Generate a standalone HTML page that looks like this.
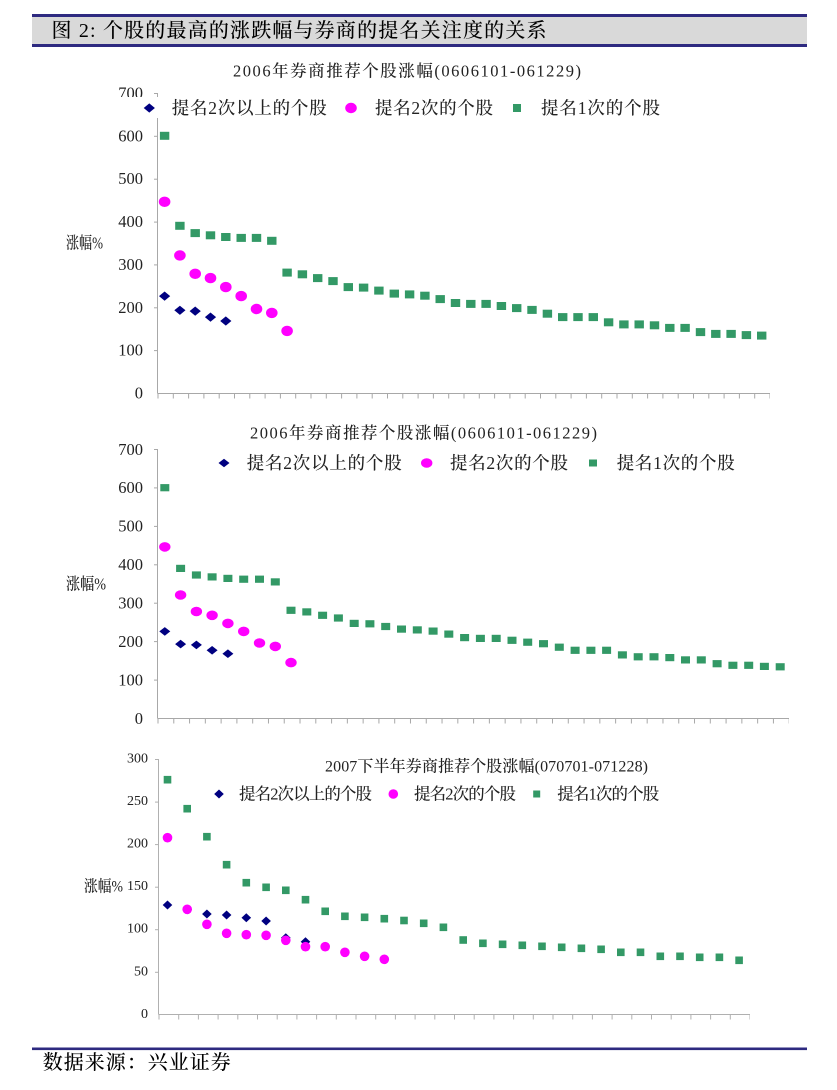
<!DOCTYPE html>
<html><head><meta charset="utf-8"><style>
html,body{margin:0;padding:0;background:#fff;}
svg{display:block;}
text{font-family:"Liberation Serif","Noto Serif CJK SC",serif;fill:#222;}
.cj{font-weight:500;}
</style></head><body>
<svg width="837" height="1090" viewBox="0 0 837 1090" xmlns="http://www.w3.org/2000/svg">
<defs>
<path id="d1" d="M0,-4.6 L5.6,0 L0,4.6 L-5.6,0Z" fill="#000080"/>
<ellipse id="c1" cx="0" cy="0" rx="5.8" ry="5.2" fill="#ff00ff"/>
<rect id="s1" x="-4.7" y="-4" width="9.4" height="8" fill="#339966"/>
<path id="d2" d="M0,-4.3 L5.5,0 L0,4.3 L-5.5,0Z" fill="#000080"/>
<ellipse id="c2" cx="0" cy="0" rx="5.7" ry="4.8" fill="#ff00ff"/>
<rect id="s2" x="-4.5" y="-3.6" width="9" height="7.2" fill="#339966"/>
<path id="d3" d="M0,-4.5 L4.8,0 L0,4.5 L-4.8,0Z" fill="#000080"/>
<circle id="c3" cx="0" cy="0" r="4.8" fill="#ff00ff"/>
<rect id="s3" x="-3.8" y="-3.8" width="7.6" height="7.6" fill="#339966"/>
</defs>

<!-- Header -->
<rect x="32" y="14" width="775" height="3" fill="#2e2a80"/>
<rect x="32" y="17" width="775" height="27" fill="#d9d9d9"/>
<rect x="32" y="44" width="775" height="3" fill="#2e2a80"/>
<text class="cj" x="51.5" y="31" font-size="20" dominant-baseline="central" textLength="495" lengthAdjust="spacing" style="fill:#000">图 2: 个股的最高的涨跌幅与券商的提名关注度的关系</text>

<!-- ============ Chart 1 ============ -->
<text class="cj" x="233" y="71" font-size="16.5" dominant-baseline="central" textLength="348" lengthAdjust="spacing">2006年券商推荐个股涨幅(0606101-061229)</text>
<g stroke="#a8a8a8" fill="none" stroke-width="1">
<line x1="157.5" y1="93" x2="157.5" y2="393.5"/>
<line x1="157.5" y1="393.5" x2="770" y2="393.5"/>
<line x1="157.5" y1="396" x2="770" y2="396" stroke-width="5" stroke-dasharray="1 14.3"/>
<line x1="154" y1="93.5" x2="158" y2="93.5"/><line x1="154" y1="136.3" x2="158" y2="136.3"/><line x1="154" y1="179.2" x2="158" y2="179.2"/><line x1="154" y1="222.1" x2="158" y2="222.1"/><line x1="154" y1="264.9" x2="158" y2="264.9"/><line x1="154" y1="307.8" x2="158" y2="307.8"/><line x1="154" y1="350.6" x2="158" y2="350.6"/>
</g>
<g font-size="16.5" text-anchor="end" dominant-baseline="central">
<text x="143" y="93">700</text><text x="143" y="135.8">600</text><text x="143" y="178.7">500</text><text x="143" y="221.6">400</text><text x="143" y="264.4">300</text><text x="143" y="307.3">200</text><text x="143" y="350.1">100</text><text x="143" y="393">0</text>
</g>
<text class="cj" x="66" y="243" font-size="16.5" dominant-baseline="central" textLength="37" lengthAdjust="spacingAndGlyphs">涨幅%</text>
<!-- legend 1 -->
<rect x="108" y="97" width="575" height="21" fill="#fff"/>
<use href="#d1" x="149.3" y="108"/>
<text class="cj" x="171.7" y="108" font-size="17.5" dominant-baseline="central" textLength="155" lengthAdjust="spacing">提名2次以上的个股</text>
<use href="#c1" x="351" y="108"/>
<text class="cj" x="375" y="108" font-size="17.5" dominant-baseline="central" textLength="118" lengthAdjust="spacing">提名2次的个股</text>
<rect x="513" y="104" width="8" height="8" fill="#339966"/>
<text class="cj" x="541" y="108" font-size="17.5" dominant-baseline="central" textLength="119" lengthAdjust="spacing">提名1次的个股</text>
<!-- series 1 -->
<use href="#d1" x="164.6" y="296.1"/><use href="#d1" x="179.9" y="310.3"/><use href="#d1" x="195.2" y="311.1"/><use href="#d1" x="210.5" y="317.1"/><use href="#d1" x="225.8" y="321"/>
<use href="#c1" x="164.6" y="201.8"/><use href="#c1" x="179.9" y="255.4"/><use href="#c1" x="195.2" y="273.8"/><use href="#c1" x="210.5" y="278.1"/><use href="#c1" x="225.8" y="287.1"/><use href="#c1" x="241.2" y="296.1"/><use href="#c1" x="256.5" y="309"/><use href="#c1" x="271.8" y="312.9"/><use href="#c1" x="287.1" y="330.9"/>
<use href="#s1" x="164.6" y="135.8"/><use href="#s1" x="179.9" y="225.8"/><use href="#s1" x="195.2" y="233.1"/><use href="#s1" x="210.5" y="235.3"/><use href="#s1" x="225.8" y="237"/><use href="#s1" x="241.2" y="237.9"/><use href="#s1" x="256.5" y="237.9"/><use href="#s1" x="271.8" y="240.8"/><use href="#s1" x="287.1" y="272.6"/><use href="#s1" x="302.4" y="274.3"/><use href="#s1" x="317.7" y="278.1"/><use href="#s1" x="333" y="281.1"/><use href="#s1" x="348.3" y="287.1"/><use href="#s1" x="363.6" y="287.6"/><use href="#s1" x="378.9" y="290.6"/><use href="#s1" x="394.3" y="293.6"/><use href="#s1" x="409.6" y="294.4"/><use href="#s1" x="424.9" y="295.7"/><use href="#s1" x="440.2" y="299.1"/><use href="#s1" x="455.5" y="303"/><use href="#s1" x="470.8" y="303.9"/><use href="#s1" x="486.1" y="303.9"/><use href="#s1" x="501.4" y="306"/><use href="#s1" x="516.7" y="308.1"/><use href="#s1" x="532" y="309.9"/><use href="#s1" x="547.4" y="313.7"/><use href="#s1" x="562.7" y="317.1"/><use href="#s1" x="578" y="317.1"/><use href="#s1" x="593.3" y="317.1"/><use href="#s1" x="608.6" y="322.3"/><use href="#s1" x="623.9" y="324.4"/><use href="#s1" x="639.2" y="324.4"/><use href="#s1" x="654.5" y="325.3"/><use href="#s1" x="669.8" y="327.9"/><use href="#s1" x="685.1" y="327.9"/><use href="#s1" x="700.5" y="332.1"/><use href="#s1" x="715.8" y="333.9"/><use href="#s1" x="731.1" y="333.9"/><use href="#s1" x="746.4" y="335.1"/><use href="#s1" x="761.7" y="335.6"/>

<!-- ============ Chart 2 ============ -->
<text class="cj" x="250" y="433" font-size="16.5" dominant-baseline="central" textLength="347" lengthAdjust="spacing">2006年券商推荐个股涨幅(0606101-061229)</text>
<g stroke="#a8a8a8" fill="none" stroke-width="1">
<line x1="157.5" y1="449" x2="157.5" y2="718.5"/>
<line x1="157.5" y1="718.5" x2="789" y2="718.5"/>
<line x1="157.5" y1="721" x2="789" y2="721" stroke-width="5" stroke-dasharray="1 14.78"/>
<line x1="154" y1="449.5" x2="158" y2="449.5"/><line x1="154" y1="487.9" x2="158" y2="487.9"/><line x1="154" y1="526.4" x2="158" y2="526.4"/><line x1="154" y1="564.8" x2="158" y2="564.8"/><line x1="154" y1="603.2" x2="158" y2="603.2"/><line x1="154" y1="641.6" x2="158" y2="641.6"/><line x1="154" y1="680.1" x2="158" y2="680.1"/>
</g>
<g font-size="16.5" text-anchor="end" dominant-baseline="central">
<text x="143" y="449.3">700</text><text x="143" y="487.7">600</text><text x="143" y="526.2">500</text><text x="143" y="564.6">400</text><text x="143" y="603">300</text><text x="143" y="641.4">200</text><text x="143" y="679.9">100</text><text x="143" y="718.3">0</text>
</g>
<text class="cj" x="66" y="584" font-size="16.5" dominant-baseline="central" textLength="40" lengthAdjust="spacingAndGlyphs">涨幅%</text>
<use href="#d2" x="224" y="463"/>
<text class="cj" x="246.7" y="463" font-size="17.5" dominant-baseline="central" textLength="155" lengthAdjust="spacing">提名2次以上的个股</text>
<use href="#c2" x="426.7" y="463"/>
<text class="cj" x="450" y="463" font-size="17.5" dominant-baseline="central" textLength="118" lengthAdjust="spacing">提名2次的个股</text>
<rect x="589" y="459.5" width="8" height="7" fill="#339966"/>
<text class="cj" x="616.7" y="463" font-size="17.5" dominant-baseline="central" textLength="118" lengthAdjust="spacing">提名1次的个股</text>
<use href="#d2" x="164.8" y="631.4"/><use href="#d2" x="180.6" y="644.1"/><use href="#d2" x="196.4" y="644.9"/><use href="#d2" x="212.1" y="650.3"/><use href="#d2" x="227.9" y="653.7"/>
<use href="#c2" x="164.8" y="546.9"/><use href="#c2" x="180.6" y="595"/><use href="#c2" x="196.4" y="611.5"/><use href="#c2" x="212.1" y="615.3"/><use href="#c2" x="227.9" y="623.4"/><use href="#c2" x="243.7" y="631.4"/><use href="#c2" x="259.5" y="643"/><use href="#c2" x="275.3" y="646.4"/><use href="#c2" x="291" y="662.6"/>
<use href="#s2" x="164.8" y="487.7"/><use href="#s2" x="180.6" y="568.4"/><use href="#s2" x="196.4" y="575"/><use href="#s2" x="212.1" y="576.9"/><use href="#s2" x="227.9" y="578.4"/><use href="#s2" x="243.7" y="579.2"/><use href="#s2" x="259.5" y="579.2"/><use href="#s2" x="275.3" y="581.9"/><use href="#s2" x="291" y="610.3"/><use href="#s2" x="306.8" y="611.9"/><use href="#s2" x="322.6" y="615.3"/><use href="#s2" x="338.4" y="618"/><use href="#s2" x="354.2" y="623.4"/><use href="#s2" x="369.9" y="623.8"/><use href="#s2" x="385.7" y="626.5"/><use href="#s2" x="401.5" y="629.1"/><use href="#s2" x="417.3" y="629.9"/><use href="#s2" x="433.1" y="631.1"/><use href="#s2" x="448.8" y="634.1"/><use href="#s2" x="464.6" y="637.6"/><use href="#s2" x="480.4" y="638.4"/><use href="#s2" x="496.2" y="638.4"/><use href="#s2" x="512" y="640.3"/><use href="#s2" x="527.7" y="642.2"/><use href="#s2" x="543.5" y="643.7"/><use href="#s2" x="559.3" y="647.2"/><use href="#s2" x="575.1" y="650.3"/><use href="#s2" x="590.9" y="650.3"/><use href="#s2" x="606.6" y="650.3"/><use href="#s2" x="622.4" y="654.9"/><use href="#s2" x="638.2" y="656.8"/><use href="#s2" x="654" y="656.8"/><use href="#s2" x="669.8" y="657.6"/><use href="#s2" x="685.5" y="659.9"/><use href="#s2" x="701.3" y="659.9"/><use href="#s2" x="717.1" y="663.7"/><use href="#s2" x="732.9" y="665.3"/><use href="#s2" x="748.7" y="665.3"/><use href="#s2" x="764.4" y="666.4"/><use href="#s2" x="780.2" y="666.8"/>

<!-- ============ Chart 3 ============ -->
<text class="cj" x="325" y="767" font-size="16" dominant-baseline="central" textLength="323" lengthAdjust="spacing">2007下半年券商推荐个股涨幅(070701-071228)</text>
<g stroke="#b0b0b0" fill="none" stroke-width="1">
<line x1="158.5" y1="759" x2="158.5" y2="1014.5"/>
<line x1="158.5" y1="1014.5" x2="750" y2="1014.5"/>
<line x1="158.5" y1="1017" x2="750" y2="1017" stroke-width="5" stroke-dasharray="1 18.7"/>
<line x1="155" y1="759.5" x2="159" y2="759.5"/><line x1="155" y1="802.1" x2="159" y2="802.1"/><line x1="155" y1="844.6" x2="159" y2="844.6"/><line x1="155" y1="887.2" x2="159" y2="887.2"/><line x1="155" y1="929.7" x2="159" y2="929.7"/><line x1="155" y1="972.3" x2="159" y2="972.3"/>
</g>
<g font-size="14" text-anchor="end" dominant-baseline="central">
<text x="148" y="759">300</text><text x="148" y="801.6">250</text><text x="148" y="844.1">200</text><text x="148" y="886.7">150</text><text x="148" y="929.2">100</text><text x="148" y="971.8">50</text><text x="148" y="1014.3">0</text>
</g>
<text class="cj" x="84" y="887" font-size="16" dominant-baseline="central" textLength="39" lengthAdjust="spacingAndGlyphs">涨幅%</text>
<use href="#d3" x="219" y="794"/>
<text class="cj" x="239" y="794" font-size="16.5" dominant-baseline="central" textLength="133" lengthAdjust="spacing">提名2次以上的个股</text>
<use href="#c3" x="393.3" y="794"/>
<text class="cj" x="414" y="794" font-size="16.5" dominant-baseline="central" textLength="102" lengthAdjust="spacing">提名2次的个股</text>
<rect x="533.2" y="790.5" width="7" height="7" fill="#339966"/>
<text class="cj" x="557.3" y="794" font-size="16.5" dominant-baseline="central" textLength="102" lengthAdjust="spacing">提名1次的个股</text>
<use href="#d3" x="167.5" y="905"/><use href="#d3" x="187.2" y="909.7"/><use href="#d3" x="206.9" y="914"/><use href="#d3" x="226.6" y="915"/><use href="#d3" x="246.3" y="917.7"/><use href="#d3" x="266.1" y="921"/><use href="#d3" x="285.8" y="937.7"/><use href="#d3" x="305.5" y="941.7"/>
<use href="#c3" x="167.5" y="837.7"/><use href="#c3" x="187.2" y="909.3"/><use href="#c3" x="206.9" y="924.3"/><use href="#c3" x="226.6" y="933.3"/><use href="#c3" x="246.3" y="934.7"/><use href="#c3" x="266.1" y="935.3"/><use href="#c3" x="285.8" y="940.3"/><use href="#c3" x="305.5" y="946.7"/><use href="#c3" x="325.2" y="946.7"/><use href="#c3" x="344.9" y="952.3"/><use href="#c3" x="364.6" y="956.3"/><use href="#c3" x="384.3" y="959.3"/>
<use href="#s3" x="167.5" y="779.7"/><use href="#s3" x="187.2" y="808.7"/><use href="#s3" x="206.9" y="836.7"/><use href="#s3" x="226.6" y="864.7"/><use href="#s3" x="246.3" y="882.7"/><use href="#s3" x="266.1" y="887.3"/><use href="#s3" x="285.8" y="890.3"/><use href="#s3" x="305.5" y="899.7"/><use href="#s3" x="325.2" y="911.3"/><use href="#s3" x="344.9" y="916.3"/><use href="#s3" x="364.6" y="917.3"/><use href="#s3" x="384.3" y="918.7"/><use href="#s3" x="404" y="920.5"/><use href="#s3" x="423.7" y="923.3"/><use href="#s3" x="443.4" y="927.3"/><use href="#s3" x="463.2" y="940"/><use href="#s3" x="482.9" y="943.3"/><use href="#s3" x="502.6" y="944.3"/><use href="#s3" x="522.3" y="945.3"/><use href="#s3" x="542" y="946.3"/><use href="#s3" x="561.7" y="947.3"/><use href="#s3" x="581.4" y="948.3"/><use href="#s3" x="601.1" y="949.3"/><use href="#s3" x="620.8" y="952.3"/><use href="#s3" x="640.5" y="952.3"/><use href="#s3" x="660.3" y="956.3"/><use href="#s3" x="680" y="956.3"/><use href="#s3" x="699.7" y="957.3"/><use href="#s3" x="719.4" y="957.3"/><use href="#s3" x="739.1" y="960.3"/>

<!-- Footer -->
<rect x="32" y="1047.5" width="775" height="2.6" fill="#2e2a80"/>
<text class="cj" x="42.7" y="1063" font-size="20" dominant-baseline="central" textLength="188" lengthAdjust="spacing" style="fill:#000">数据来源：兴业证券</text>
</svg>
</body></html>
